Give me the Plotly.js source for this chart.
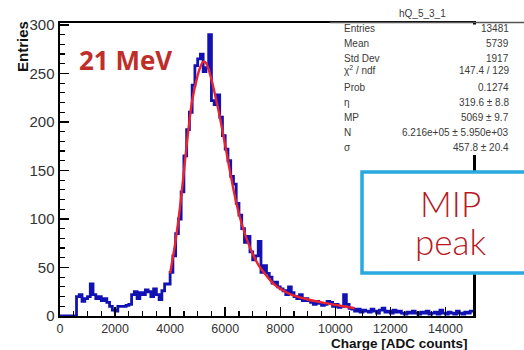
<!DOCTYPE html>
<html>
<head>
<meta charset="utf-8">
<script src="https://cdn.plot.ly/plotly-3.0.1.min.js"></script>
<style>html,body{margin:0;padding:0;background:#fff;}#chart{width:524px;height:350px;}</style>
</head>
<body>
<div id="chart"></div>
<script>
// ---- data ----
const binStart = 0;
const binWidth = 100;
const counts = [
  0, 0, 0, 0, 0, 0, 20, 22, 15, 18,
  20, 33, 22, 18, 20, 16, 18, 14, 10, 6,
  5, 10, 10, 10, 11, 12, 22, 25, 18, 24,
  22, 27, 25, 20, 28, 22, 17, 26, 33, 33,
  45, 62, 85, 100, 128, 165, 192, 210, 238, 258,
  265, 270, 252, 256, 290, 222, 218, 228, 205, 186,
  172, 160, 144, 136, 116, 104, 90, 76, 82, 66,
  58, 62, 77, 45, 52, 44, 40, 34, 35, 30,
  28, 26, 22, 30, 24, 20, 18, 22, 16, 18,
  16, 14, 12, 15, 13, 11, 12, 15, 14, 10,
  12, 9, 10, 22, 12, 8, 7, 5, 7, 4,
  6, 5, 4, 7, 5, 3, 6, 8, 4, 5,
  3, 6, 4, 5, 3, 2, 4, 3, 5, 3,
  2, 4, 3, 5, 2, 3, 4, 2, 6, 3,
  2, 4, 3, 2, 5, 3, 2, 4, 3, 5
];
const fitX = [4000, 4200, 4400, 4600, 4800, 5000, 5100, 5200, 5300, 5400, 5500, 5600, 5800, 6000, 6200, 6400, 6600, 6800, 7000, 7200, 7400, 7600, 7800, 8000, 8250, 8500, 9000, 9500, 10000, 10500, 10700];
const fitY = [44, 78, 122, 176, 222, 248, 257, 262, 261, 254, 244, 232, 206, 176, 145, 117, 95, 78, 64, 53, 45, 38, 32, 28, 24, 21, 17, 14, 11.5, 9, 8];
const xTickVals = [0, 2000, 4000, 6000, 8000, 10000, 12000, 14000];
const yTickVals = [0, 50, 100, 150, 200, 250, 300];
const histName = "hQ_5_3_1";
const statLabels = ["Entries", "Mean", "Std Dev", "χ<sup>2</sup> / ndf", "Prob", "η", "MP", "N", "σ"];
const statValues = ["13481", "5739", "1917", "147.4 / 129", "0.1274", "319.6 ± 8.8", "5069 ± 9.7", "6.216e+05 ± 5.950e+03", "457.8 ± 20.4"];
const energyLabel = "21 MeV";
const boxLines = ["MIP", "peak"];
const xTitle = "Charge [ADC counts]";
const yTitle = "Entries";

// ---- build histogram step trace ----
const hx = [], hy = [];
counts.forEach((c, i) => { hx.push(binStart + i * binWidth); hy.push(c); });
hx.push(binStart + counts.length * binWidth); hy.push(counts[counts.length - 1]);

// pixel -> paper helpers (plot area 60..473 x, 23..316 y)
const L = 60, R = 473, T = 23, B = 316;
const px = x => (x - L) / (R - L);
const py = y => (B - y) / (B - T);

const traces = [
  {x: hx, y: hy, type: 'scatter', mode: 'lines', line: {shape: 'hv', color: '#1212b4', width: 2.8}, hoverinfo: 'skip'},
  {x: fitX, y: fitY, type: 'scatter', mode: 'lines', line: {shape: 'spline', smoothing: 0.8, color: '#e8242e', width: 2.4}, hoverinfo: 'skip'}
];

const statRowsY = [29, 44, 58, 70, 88, 103, 117, 132, 147];
const annotations = [];
const statFont = {family: 'Liberation Sans, Arial, sans-serif', size: 10, color: '#3a3a3a'};
annotations.push({xref: 'paper', yref: 'paper', x: px(422), y: py(14), text: histName, showarrow: false, xanchor: 'center', yanchor: 'middle', font: statFont});
statLabels.forEach((t, i) => {
  annotations.push({xref: 'paper', yref: 'paper', x: px(342), y: py(statRowsY[i]), text: t, showarrow: false, xanchor: 'left', yanchor: 'middle', font: statFont});
  annotations.push({xref: 'paper', yref: 'paper', x: px(511), y: py(statRowsY[i]), text: statValues[i], showarrow: false, xanchor: 'right', yanchor: 'middle', font: statFont});
});
annotations.push({xref: 'paper', yref: 'paper', x: px(125), y: py(60), text: '<b>' + energyLabel + '</b>', showarrow: false, xanchor: 'center', yanchor: 'middle', font: {family: 'Open Sans, Noto Sans, sans-serif', size: 26, color: '#bf2f2a'}});
annotations.push({xref: 'paper', yref: 'paper', x: px(450), y: py(203), text: boxLines[0], showarrow: false, xanchor: 'center', yanchor: 'middle', font: {family: 'Lato, sans-serif', size: 35, weight: 300, color: '#b8191f'}});
annotations.push({xref: 'paper', yref: 'paper', x: px(450), y: py(241), text: boxLines[1], showarrow: false, xanchor: 'center', yanchor: 'middle', font: {family: 'Lato, sans-serif', size: 35, weight: 300, color: '#b8191f'}});
annotations.push({xref: 'paper', yref: 'paper', x: px(470), y: py(343), text: '<b>' + xTitle + '</b>', showarrow: false, xanchor: 'right', yanchor: 'middle', font: {family: 'Liberation Sans, Arial, sans-serif', size: 13.5, color: '#111'}});
annotations.push({xref: 'paper', yref: 'paper', x: px(22), y: py(47), text: '<b>' + yTitle + '</b>', textangle: -90, showarrow: false, xanchor: 'center', yanchor: 'middle', font: {family: 'Liberation Sans, Arial, sans-serif', size: 15, color: '#111'}});

const shapes = [
  // stats box (white, hides the frame)
  {type: 'rect', xref: 'paper', yref: 'paper', x0: px(300), x1: px(530), y0: py(24.5), y1: py(155), fillcolor: '#ffffff', line: {width: 0}, layer: 'above'},
  {type: 'line', xref: 'paper', yref: 'paper', x0: px(330), x1: px(530), y0: py(22.5), y1: py(22.5), line: {color: '#555', width: 1.5}, layer: 'above'},
  // MIP peak box
  {type: 'rect', xref: 'paper', yref: 'paper', x0: px(362), x1: px(545), y0: py(172), y1: py(273), fillcolor: '#ffffff', line: {color: '#2aa8e0', width: 3.5}, layer: 'above'}
];

const layout = {
  width: 524, height: 350,
  margin: {l: L, r: 524 - R, t: T, b: 350 - B, pad: 0},
  paper_bgcolor: '#fff', plot_bgcolor: '#fff',
  showlegend: false,
  xaxis: {
    range: [0, 15000], tickvals: xTickVals, ticktext: xTickVals.map(String),
    ticks: 'inside', ticklen: 9, tickwidth: 1.5, tickcolor: '#000',
    showline: true, linecolor: '#000', linewidth: 2, mirror: true,
    showgrid: false, zeroline: false,
    tickfont: {family: 'Liberation Sans, Arial, sans-serif', size: 12.5, color: '#333'},
    minor: {dtick: 500, tick0: 0, ticks: 'inside', ticklen: 5, tickwidth: 1.2, tickcolor: '#000', showgrid: false}
  },
  yaxis: {
    range: [0, 302], tickvals: yTickVals, ticktext: yTickVals.map(String),
    ticks: 'inside', ticklen: 9, tickwidth: 1.5, tickcolor: '#000',
    showline: true, linecolor: '#000', linewidth: 2.5, mirror: true,
    showgrid: false, zeroline: false,
    tickfont: {family: 'Liberation Sans, Arial, sans-serif', size: 15, color: '#333'},
    minor: {dtick: 10, tick0: 0, ticks: 'inside', ticklen: 5, tickwidth: 1.2, tickcolor: '#000', showgrid: false}
  },
  annotations: annotations,
  shapes: shapes
};

Plotly.newPlot('chart', traces, layout, {staticPlot: true, displayModeBar: false});
</script>
</body>
</html>
